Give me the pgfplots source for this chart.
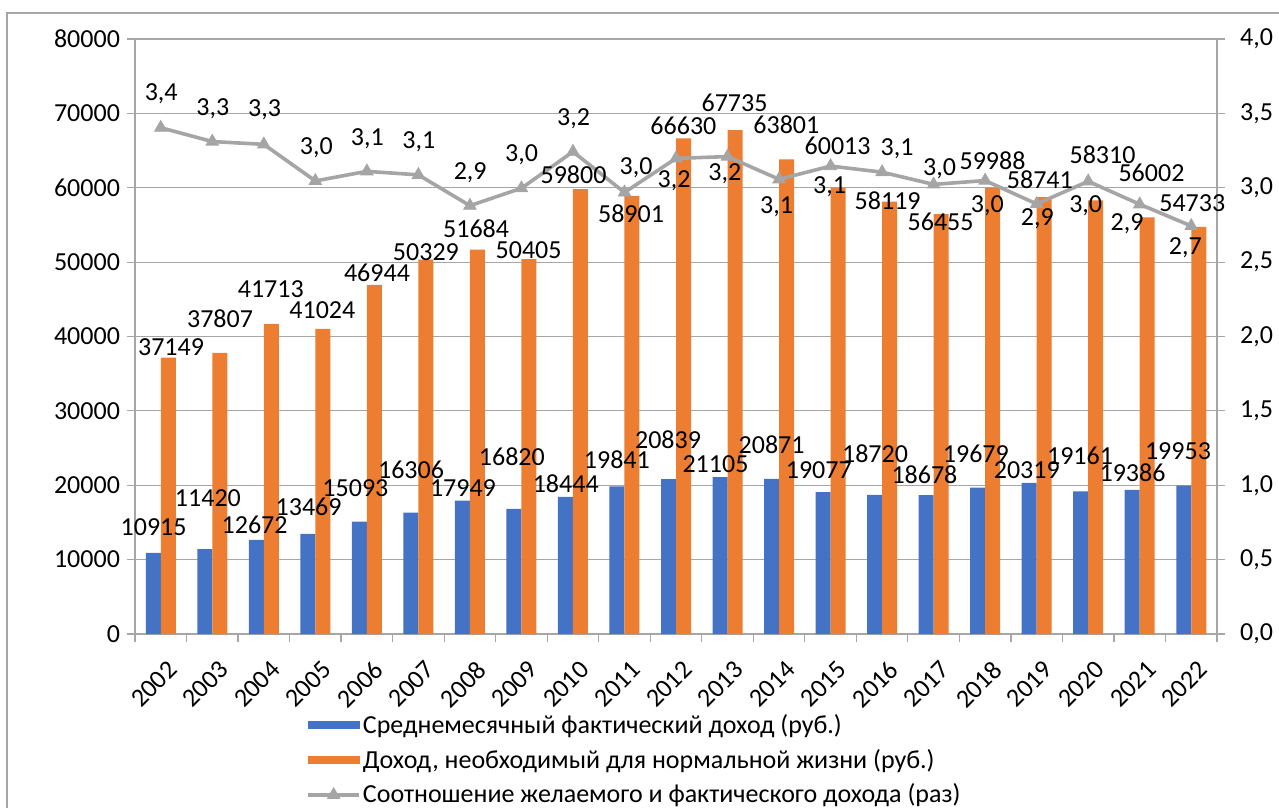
\documentclass[border=0pt]{standalone}
\usepackage{fontspec}
\setmainfont{Carlito}
\usepackage{pgfplots}
\usepackage{pgfplotstable}
\pgfplotsset{compat=1.18}
\definecolor{cblue}{HTML}{4472C4}
\definecolor{corange}{HTML}{ED7D31}
\definecolor{cgray}{HTML}{A5A5A5}
\definecolor{cgrid}{HTML}{A6A6A6}
\newcommand\f{\fontsize{13pt}{15.6pt}\selectfont}

\pgfplotstableread{
x blue orange ratio
0 10915 37149 3.4035
1 11420 37807 3.3106
2 12672 41713 3.2917
3 13469 41024 3.0458
4 15093 46944 3.1103
5 16306 50329 3.0866
6 17949 51684 2.8795
7 16820 50405 2.9967
8 18444 59800 3.2423
9 19841 58901 2.9686
10 20839 66630 3.1974
11 21105 67735 3.2094
12 20871 63801 3.0569
13 19077 60013 3.1458
14 18720 58119 3.1046
15 18678 56455 3.0225
16 19679 59988 3.0483
17 20319 58741 2.8910
18 19161 58310 3.0432
19 19386 56002 2.8888
20 19953 54733 2.7431
}\data

\pgfplotstableread{
x y label
-0.139 14386 10915
0.915 18285 11420
1.821 14655 12672
2.870 17116 13469
3.778 19630 15093
4.857 22050 16306
5.865 19630 17949
6.814 23838 16820
7.860 20168 18444
8.852 23394 19841
9.845 26177 20839
10.766 22857 21105
11.856 25411 20871
12.771 22050 19077
13.863 24295 18720
14.822 21378 18678
15.820 24201 19679
16.808 22050 20319
17.842 23932 19161
18.861 21687 19386
19.743 24645 19953
}\bluelab

\pgfplotstableread{
x y label
0.199 38628 37149
1.150 42446 37807
2.136 46345 41713
3.137 43562 41024
4.197 48496 46944
5.146 51400 50329
6.121 54546 51684
7.140 51629 50405
8.011 61807 59800
9.127 56469 58901
10.144 68301 66630
11.136 71353 67735
12.142 68529 63801
13.137 65612 60013
14.108 58257 58119
15.135 55434 56455
16.144 63635 59988
17.062 61134 58741
18.279 64402 58310
19.228 61941 56002
20.020 57988 54733
}\orangelab

\pgfplotstableread{
x y label
0.009 3.635 3,4
1.012 3.534 3,3
2.014 3.523 3,3
3.019 3.272 3,0
4.009 3.328 3,1
5.009 3.310 3,1
6.006 3.104 2,9
7.004 3.220 3,0
8.011 3.467 3,2
9.224 3.133 3,0
9.962 3.047 3,2
10.948 3.092 3,2
11.951 2.873 3,1
12.980 3.007 3,1
14.292 3.265 3,1
15.115 3.131 3,0
16.041 2.879 3,0
17.014 2.795 2,9
17.951 2.879 3,0
18.755 2.761 2,9
19.884 2.600 2,7
}\ratiolab

\begin{document}
\begin{tikzpicture}
\begin{axis}[
  at={(0,0)}, anchor=south west,
  scale only axis, width=541pt, height=297.5pt,
  xmin=-0.5, xmax=20.5, ymin=0, ymax=80000,
  xtick={0,...,20},
  xticklabels={2002,2003,2004,2005,2006,2007,2008,2009,2010,2011,2012,2013,2014,2015,2016,2017,2018,2019,2020,2021,2022},
  major x tick style={draw=none},
  minor xtick={-0.5,0.5,...,20.5},
  ytick={0,10000,...,80000},
  xtick pos=bottom, ytick pos=left,
  tick align=outside,
  major tick length=4pt, minor tick length=4pt,
  tick style={cgrid, line width=0.6pt},
  axis line style={cgrid, line width=0.6pt},
  ymajorgrids, grid style={cgrid, line width=0.6pt},
  scaled y ticks=false,
  yticklabel style={/pgf/number format/.cd, 1000 sep={}, assume math mode=true},
  tick label style={font=\f, text=black},
  xticklabel style={rotate=45, anchor=north east, inner sep=0pt, xshift=-4pt, yshift=-8pt},
  clip=false,
]
\addplot[ybar, bar width=7.5pt, bar shift=-3.75pt, fill=cblue, draw=none] table[x=x,y=blue]{\data};
\addplot[ybar, bar width=7.5pt, bar shift=3.75pt, fill=corange, draw=none] table[x=x,y=orange]{\data};
\end{axis}
\begin{axis}[
  at={(0,0)}, anchor=south west,
  scale only axis, width=541pt, height=297.5pt,
  xmin=-0.5, xmax=20.5, ymin=0, ymax=4,
  hide x axis,
  ytick={0,0.5,1,1.5,2,2.5,3,3.5,4},
  ytick pos=right,
  tick align=outside, major tick length=4pt,
  tick style={cgrid, line width=0.6pt},
  axis line style={cgrid, line width=0.6pt},
  tick label style={font=\f, text=black},
  yticklabel style={xshift=4pt, /pgf/number format/.cd, fixed, fixed zerofill, precision=1, use comma, assume math mode=true},
  clip=false,
  every node near coord/.append style={font=\f, anchor=center, inner sep=0pt, text=black},
  legend style={at={(axis description cs:0.158,-0.131)}, anchor=north west, draw=none, fill=none,
    font=\f, row sep=4.4pt, inner sep=0pt, nodes={inner sep=1pt, anchor=west},
    /tikz/every even column/.append style={column sep=2pt}},
  legend cell align=left,
]
\addlegendimage{legend image code/.code={\fill[cblue] (0pt,-1.75pt) rectangle (25.5pt,1.75pt);}}
\addlegendimage{legend image code/.code={\fill[corange] (0pt,-1.75pt) rectangle (25.5pt,1.75pt);}}
\addlegendimage{legend image code/.code={\draw[cgray, line width=1.8pt, mark=triangle*, mark size=3.6pt, mark options={solid, fill=cgray, line width=0.4pt}, mark repeat=2, mark phase=2] plot coordinates {(0pt,0pt) (12.75pt,0pt) (25.5pt,0pt)};}}
\addplot[color=cgray, line width=1.8pt, mark=triangle*, mark size=3.6pt,
  mark options={solid, fill=cgray, line width=0.4pt}, forget plot]
  table[x=x,y=ratio]{\data};
\addplot[draw=none, mark=none, nodes near coords, point meta=explicit symbolic, forget plot]
  table[x=x, y expr=\thisrow{y}/20000, meta=label]{\bluelab};
\addplot[draw=none, mark=none, nodes near coords, point meta=explicit symbolic, forget plot]
  table[x=x, y expr=\thisrow{y}/20000, meta=label]{\orangelab};
\addplot[draw=none, mark=none, nodes near coords, point meta=explicit symbolic, forget plot]
  table[x=x, y=y, meta=label]{\ratiolab};
\legend{Среднемесячный фактический доход (руб.),Доход{,} необходимый для нормальной жизни (руб.),Соотношение желаемого и фактического дохода (раз)}
\end{axis}
\pgfresetboundingbox
\useasboundingbox (-67.5pt,-87pt) rectangle (572pt,317pt);
\draw[cgrid, line width=0.6pt] (-64pt,-90pt) -- (-64pt,310.5pt) -- (575pt,310.5pt);
\end{tikzpicture}
\end{document}
